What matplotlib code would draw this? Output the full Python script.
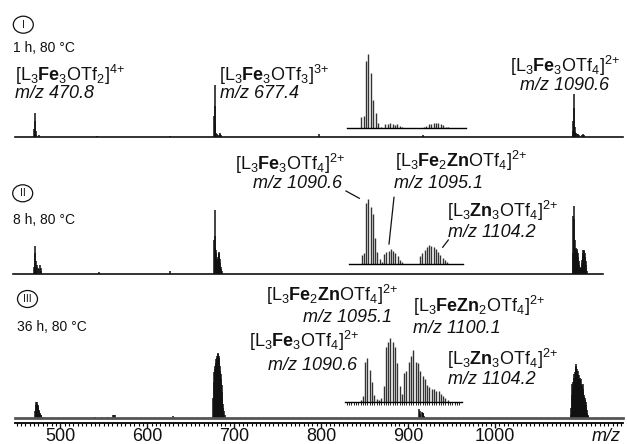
import matplotlib
matplotlib.use("Agg")
import matplotlib.pyplot as plt
from matplotlib.lines import Line2D
from matplotlib.patches import Ellipse

plt.rcParams["font.family"] = ["Liberation Sans", "DejaVu Sans"]
plt.rcParams["mathtext.fontset"] = "custom"
plt.rcParams["mathtext.rm"] = "Liberation Sans"
plt.rcParams["mathtext.bf"] = "Liberation Sans:bold"
plt.rcParams["mathtext.it"] = "Liberation Sans:italic"
plt.rcParams["mathtext.default"] = "regular"

W, H = 627, 444
INK = "#111111"

# ---- full spectra (m/z, relative intensity in % of panel maximum) ----
S1_MZ = [470.3, 470.8, 471.3, 471.8, 472.3, 476.0, 542.0, 626.0,
         676.9, 677.4, 677.9, 678.4, 679.0, 680.0, 681.0, 683.5, 684.0, 684.5,
         797.0, 917.0,
         1089.5, 1090.0, 1090.5, 1091.0, 1091.5, 1092.0, 1093.0, 1094.0, 1095.0,
         1096.0, 1100.0, 1101.0, 1102.0]
S1_INT = [15, 46, 30, 12, 4, 3, 2, 2,
          40, 100, 60, 25, 8, 6, 4, 6, 7, 4,
          6, 4,
          12, 30, 83, 55, 20, 10, 8, 6, 5,
          3, 4, 5, 3]

S2_MZ = [470.3, 470.8, 471.3, 471.8, 472.5, 473.5, 474.5, 475.5, 476.5, 477.5, 478.0,
         545.0, 626.0,
         677.0, 677.4, 677.9, 678.4, 679.0, 679.5, 680.0, 680.5, 681.0, 681.5, 682.0,
         682.5, 683.0, 683.5, 684.0, 684.5, 685.0, 686.0,
         1089.5, 1090.0, 1090.5, 1091.0, 1091.5, 1092.0, 1092.5, 1093.0, 1093.5, 1094.0,
         1094.5, 1095.0, 1095.5, 1096.0, 1096.5, 1097.0, 1097.5, 1098.0, 1098.5, 1099.0,
         1099.5, 1100.0, 1100.5, 1101.0, 1101.5, 1102.0, 1102.5, 1103.0, 1103.5, 1104.0,
         1104.5, 1105.0, 1105.5]
S2_INT = [10, 40, 30, 18, 10, 13, 8, 6, 13, 8, 3,
          2, 3,
          50, 94, 55, 37, 35, 30, 22, 18, 20, 25, 30,
          31, 28, 22, 15, 10, 6, 3,
          30, 85, 100, 80, 50, 35, 30, 32, 37, 36,
          33, 30, 25, 18, 12, 8, 6, 6, 8, 10,
          15, 20, 26, 30, 34, 35, 33, 30, 25, 18,
          12, 7, 3]

S3_MZ = [471.5, 472.0, 472.5, 473.0, 473.5, 474.0, 474.5, 475.0, 475.5, 476.0, 476.5,
         477.0, 477.5, 478.0, 479.0,
         540.0, 548.0, 555.0, 561.0, 562.0, 563.0, 630.0, 631.0,
         676.0, 676.5, 677.0, 677.5, 678.0, 678.5, 679.0, 679.5, 680.0, 680.5, 681.0,
         681.5, 682.0, 682.5, 683.0, 683.5, 684.0, 684.5, 685.0, 685.5, 686.0, 686.5,
         687.0, 687.5, 688.0, 689.0, 690.0,
         913.0, 913.5, 914.0, 916.0, 916.5, 917.0, 917.5, 918.0,
         1087.0, 1087.5, 1088.0, 1088.5, 1089.0, 1089.5, 1090.0, 1090.5, 1091.0, 1091.5,
         1092.0, 1092.5, 1093.0, 1093.5, 1094.0, 1094.5, 1095.0, 1095.5, 1096.0, 1096.5,
         1097.0, 1097.5, 1098.0, 1098.5, 1099.0, 1099.5, 1100.0, 1100.5, 1101.0, 1101.5,
         1102.0, 1102.5, 1103.0, 1103.5, 1104.0, 1104.5, 1105.0, 1105.5, 1106.0, 1106.5,
         1107.0]
S3_INT = [10, 20, 25, 22, 24, 20, 18, 16, 12, 10, 8,
          6, 5, 4, 2,
          2, 2, 2, 5, 4, 4, 3, 2,
          30, 55, 70, 60, 75, 80, 85, 90, 92, 95, 98,
          100, 96, 92, 88, 80, 72, 68, 60, 50, 40, 30,
          22, 15, 10, 5, 2,
          14, 10, 6, 9, 8, 7, 5, 3,
          5, 15, 35, 52, 45, 40, 55, 62, 68, 60,
          70, 78, 83, 80, 75, 70, 72, 66, 60, 66,
          62, 55, 58, 60, 52, 48, 50, 52, 45, 40,
          35, 32, 30, 28, 24, 20, 15, 12, 8, 5,
          3]

# ---- expanded isotope patterns (insets) ----
I1_MZ = [1089.0, 1089.5, 1090.0, 1090.5, 1091.0, 1091.5, 1092.0, 1092.5, 1093.0,
         1094.0, 1094.5, 1095.0, 1095.5, 1096.0, 1096.5, 1097.0, 1097.5,
         1102.0, 1102.5, 1103.0, 1103.5, 1104.0, 1104.5, 1105.0, 1105.5, 1106.0, 1106.5, 1107.0]
I1_INT = [15, 16, 91, 100, 74, 38, 20, 7, 2,
          5, 5, 7, 5, 4, 5, 3, 1,
          2, 3, 5, 5, 7, 7, 7, 5, 4, 2, 1]

I2_MZ = [1089.0, 1089.5, 1090.0, 1090.5, 1091.0, 1091.5, 1092.0, 1092.5, 1093.0, 1093.5,
         1094.0, 1094.5, 1095.0, 1095.5, 1096.0, 1096.5, 1097.0, 1097.5, 1098.0,
         1102.0, 1102.5, 1103.0, 1103.5, 1104.0, 1104.5, 1105.0, 1105.5, 1106.0, 1106.5,
         1107.0, 1107.5, 1108.0]
I2_INT = [15, 17, 95, 100, 88, 77, 40, 19, 8, 4,
          16, 19, 21, 23, 20, 17, 12, 7, 3,
          12, 17, 22, 27, 30, 28, 27, 23, 19, 14,
          10, 6, 3]

I3_MZ = [1088.5, 1089.0, 1089.5, 1090.0, 1090.5, 1091.0, 1091.5, 1092.0, 1092.5, 1093.0,
         1093.5, 1094.0, 1094.5, 1095.0, 1095.5, 1096.0, 1096.5, 1097.0, 1097.5, 1098.0,
         1098.5, 1099.0, 1099.5, 1100.0, 1100.5, 1101.0, 1101.5, 1102.0, 1102.5, 1103.0,
         1103.5, 1104.0, 1104.5, 1105.0, 1105.5, 1106.0, 1106.5, 1107.0, 1107.5]
I3_INT = [3, 8, 62, 68, 50, 30, 10, 4, 3, 5,
          25, 85, 93, 100, 93, 85, 60, 25, 12, 45,
          47, 62, 71, 80, 62, 60, 47, 40, 35, 26,
          22, 20, 19, 17, 17, 12, 8, 5, 2]

CONDITIONS = ["1 h, 80 °C", "8 h, 80 °C", "36 h, 80 °C"]
NUMERALS = ["I", "II", "III"]
XTICKS = [500, 600, 700, 800, 900, 1000]

L_FE3_2 = r"[L$_3$$\mathbf{Fe}_3$OTf$_2$]$^{4\!+}$"
L_FE3_3 = r"[L$_3$$\mathbf{Fe}_3$OTf$_3$]$^{3\!+}$"
L_FE3_4 = r"[L$_3$$\mathbf{Fe}_3$OTf$_4$]$^{2\!+}$"
L_FE2ZN = r"[L$_3$$\mathbf{Fe}_2$$\mathbf{Zn}$OTf$_4$]$^{2\!+}$"
L_FEZN2 = r"[L$_3$$\mathbf{FeZn}_2$OTf$_4$]$^{2\!+}$"
L_ZN3 = r"[L$_3$$\mathbf{Zn}_3$OTf$_4$]$^{2\!+}$"


def rect(x0, x1, base, top):
    """pixel box -> figure fraction [l, b, w, h]"""
    return [x0 / W, 1 - base / H, (x1 - x0) / W, (base - top) / H]


def fp(x, y):
    return x / W, 1 - y / H


fig = plt.figure(figsize=(W / 100, H / 100), dpi=100)
fig.patch.set_facecolor("white")

XL = (448, 1147)


def panel(box, mz, inten, ylo=0):
    ax = fig.add_axes(box)
    ax.set_xlim(*XL)
    ax.set_ylim(ylo, 100)
    ax.patch.set_alpha(0)
    for s in ax.spines.values():
        s.set_visible(False)
    ax.set_xticks([]); ax.set_yticks([])
    ax.vlines(mz, 0, inten, color=INK, lw=1.1, clip_on=False)
    return ax


ax1 = panel(rect(15, 623, 137, 85), S1_MZ, S1_INT)
ax1.plot([448, 1147], [0, 0], color=INK, lw=1.2, clip_on=False)
ax2 = panel(rect(15, 623, 273.5, 205.5), S2_MZ, S2_INT)
ax2.plot([446, 1124], [0, 0], color=INK, lw=1.2, clip_on=False)
ax3 = panel(rect(15, 623, 423, 353), S3_MZ, S3_INT, ylo=-7.7)
ax3.plot([448, 1147], [0, 0], color="#555555", lw=2.0, clip_on=False)

# bottom m/z axis
ax3.spines["bottom"].set_visible(True)
ax3.spines["bottom"].set_linewidth(1.3)
ax3.set_xticks(XTICKS)
ax3.set_xticks(range(450, 1150, 5), minor=True)
ax3.tick_params(axis="x", which="major", direction="out", length=3.5, width=1.0,
                pad=0, labelsize=13, colors=INK)
ax3.tick_params(axis="x", which="minor", direction="out", length=2.5, width=0.8)
fig.text(*fp(621, 441), "m/z", fontsize=13, style="italic", ha="right",
         va="baseline", color=INK)


def inset(box, mz, inten, xl, ticks=False):
    ax = fig.add_axes(box)
    ax.set_xlim(*xl)
    ax.set_ylim(0, 100)
    ax.patch.set_alpha(0)
    for s in ("top", "right", "left"):
        ax.spines[s].set_visible(False)
    ax.spines["bottom"].set_linewidth(1.0)
    ax.set_yticks([])
    ax.set_xticks([])
    if ticks:
        ax.set_xticks([x * 0.5 for x in range(int(xl[0] * 2) + 1, int(xl[1] * 2))], minor=True)
        ax.tick_params(axis="x", which="minor", direction="out", length=2, width=0.6)
    ax.vlines(mz, 0, inten, color="#333333", lw=1.0)
    return ax


inset(rect(347, 466, 128, 54), I1_MZ, I1_INT, (1086.05, 1110.7))
inset(rect(349, 463, 264.3, 199.3), I2_MZ, I2_INT, (1086.2, 1111.5))
inset(rect(345, 462, 401.5, 337.5), I3_MZ, I3_INT, (1085.1, 1110.6), ticks=True)

# circled numerals and conditions
for (cx, cy), num in zip([(23.3, 24.7), (22.7, 193.3), (27.5, 299)], NUMERALS):
    fig.add_artist(Ellipse(fp(cx, cy), 20 / W, 17 / H, transform=fig.transFigure,
                           fill=False, lw=0.9, color=INK))
    fig.text(*fp(cx, cy), num, fontsize=7.5, ha="center", va="center", color=INK)
for (x, y), t in zip([(13, 51.5), (12.7, 224), (16.7, 330.5)], CONDITIONS):
    fig.text(*fp(x, y), t, fontsize=10, ha="left", va="baseline", color=INK)

LAB = dict(fontsize=13, va="baseline", color=INK)
MZ = dict(fontsize=13, va="baseline", color=INK, style="italic")

# panel I
fig.text(*fp(15, 80.7), L_FE3_2, ha="left", **LAB)
fig.text(*fp(15, 97.5), "m/z 470.8", ha="left", **MZ)
fig.text(*fp(219, 80.7), L_FE3_3, ha="left", **LAB)
fig.text(*fp(220, 97.5), "m/z 677.4", ha="left", **MZ)
fig.text(*fp(565, 71.7), L_FE3_4, ha="center", **LAB)
fig.text(*fp(565, 90), "m/z 1090.6", ha="center", **MZ)

# panel II
fig.text(*fp(345, 170), L_FE3_4, ha="right", **LAB)
fig.text(*fp(342, 188), "m/z 1090.6", ha="right", **MZ)
fig.text(*fp(395, 167), L_FE2ZN, ha="left", **LAB)
fig.text(*fp(394, 188), "m/z 1095.1", ha="left", **MZ)
fig.text(*fp(447, 216.7), L_ZN3, ha="left", **LAB)
fig.text(*fp(448, 237.3), "m/z 1104.2", ha="left", **MZ)
for (x0, y0), (x1, y1) in [((346, 191), (359.3, 198.3)), ((394, 197.3), (389, 244)),
                           ((448.3, 240), (442.7, 247.3))]:
    a, b = fp(x0, y0)
    c, d = fp(x1, y1)
    fig.add_artist(Line2D([a, c], [b, d], transform=fig.transFigure, color=INK, lw=0.9))

# panel III
fig.text(*fp(266, 301), L_FE2ZN, ha="left", **LAB)
fig.text(*fp(391.7, 322), "m/z 1095.1", ha="right", **MZ)
fig.text(*fp(413, 311.7), L_FEZN2, ha="left", **LAB)
fig.text(*fp(413, 333), "m/z 1100.1", ha="left", **MZ)
fig.text(*fp(359, 346.7), L_FE3_4, ha="right", **LAB)
fig.text(*fp(357, 370), "m/z 1090.6", ha="right", **MZ)
fig.text(*fp(447, 365), L_ZN3, ha="left", **LAB)
fig.text(*fp(448, 384), "m/z 1104.2", ha="left", **MZ)

fig.savefig("out.png", dpi=100, facecolor="white")
